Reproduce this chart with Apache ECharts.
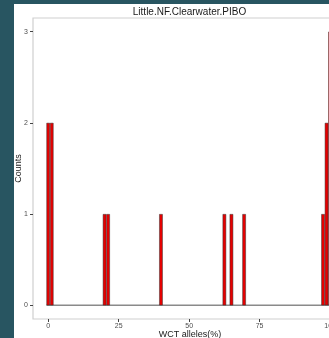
<!DOCTYPE html>
<html>
<head>
<meta charset="utf-8">
<script src="https://cdn.jsdelivr.net/npm/echarts@6/dist/echarts.min.js"></script>
<style>
  html, body { margin: 0; padding: 0; width: 329px; height: 338px; overflow: hidden; background: #285561; }
  #chart { position: absolute; left: 14px; top: 4px; width: 360px; height: 334px; background: #fff; }
</style>
</head>
<body>
<div id="chart"></div>
<script>
// histogram bins (bin centre, % WCT alleles) and counts
var binCenters = [0, 1.25, 20, 21.25, 40, 62.5, 65, 69.5, 97.5, 98.75, 100];
var counts = [2, 2, 1, 1, 1, 1, 1, 1, 1, 2, 3];
var binRange = [-0.625, 100.625];
var xTicks = [0, 25, 50, 75, 100];
var yTicks = [0, 1, 2, 3];

var barData = binCenters.map(function (x, i) { return [x, counts[i]]; });
var baseData = binRange.map(function (x) { return [x, 0]; });

var font = 'Liberation Sans, Arial, sans-serif';
var option = {
  animation: false,
  title: {
    text: 'Little.NF.Clearwater.PIBO',
    left: 175.5,
    top: 3,
    padding: 0,
    textAlign: 'center',
    textStyle: { fontSize: 10, fontWeight: 'normal', color: '#1a1a1a', fontFamily: font }
  },
  grid: {
    left: 19, top: 14, width: 314, bottom: 19,
    containLabel: false,
    outerBoundsMode: 'none',
    show: true, borderColor: '#cfcfcf', borderWidth: 1.2, backgroundColor: '#fff'
  },
  xAxis: {
    type: 'value',
    min: -5.4, max: 106,
    name: 'WCT alleles(%)',
    nameLocation: 'middle',
    nameGap: 11,
    nameMoveOverlap: false,
    nameTextStyle: { fontSize: 9, color: '#1a1a1a', fontFamily: font },
    axisLine: { show: false, onZero: false },
    splitLine: { show: false },
    axisTick: { show: true, length: 3, customValues: xTicks, lineStyle: { color: '#444' } },
    axisLabel: { customValues: xTicks, fontSize: 7, color: '#4d4d4d', margin: 4, fontFamily: font }
  },
  yAxis: {
    type: 'value',
    min: -0.15, max: 3.15,
    name: 'Counts',
    nameLocation: 'middle',
    nameGap: 10,
    nameMoveOverlap: false,
    nameTextStyle: { fontSize: 9, color: '#1a1a1a', fontFamily: font },
    axisLine: { show: false, onZero: false },
    splitLine: { show: false },
    axisTick: { show: true, length: 3, customValues: yTicks, lineStyle: { color: '#444' } },
    axisLabel: { customValues: yTicks, fontSize: 7, color: '#4d4d4d', margin: 5, fontFamily: font }
  },
  series: [
    {
      type: 'line',
      data: baseData,
      symbol: 'none',
      lineStyle: { color: '#8a8a8a', width: 1.5 },
      z: 1
    },
    {
      type: 'bar',
      data: barData,
      barWidth: 3.5,
      itemStyle: { color: '#e60000', borderColor: '#333', borderWidth: 0.5 },
      z: 2
    }
  ]
};
var myChart = echarts.init(document.getElementById('chart'));
myChart.setOption(option, true);
</script>
</body>
</html>
